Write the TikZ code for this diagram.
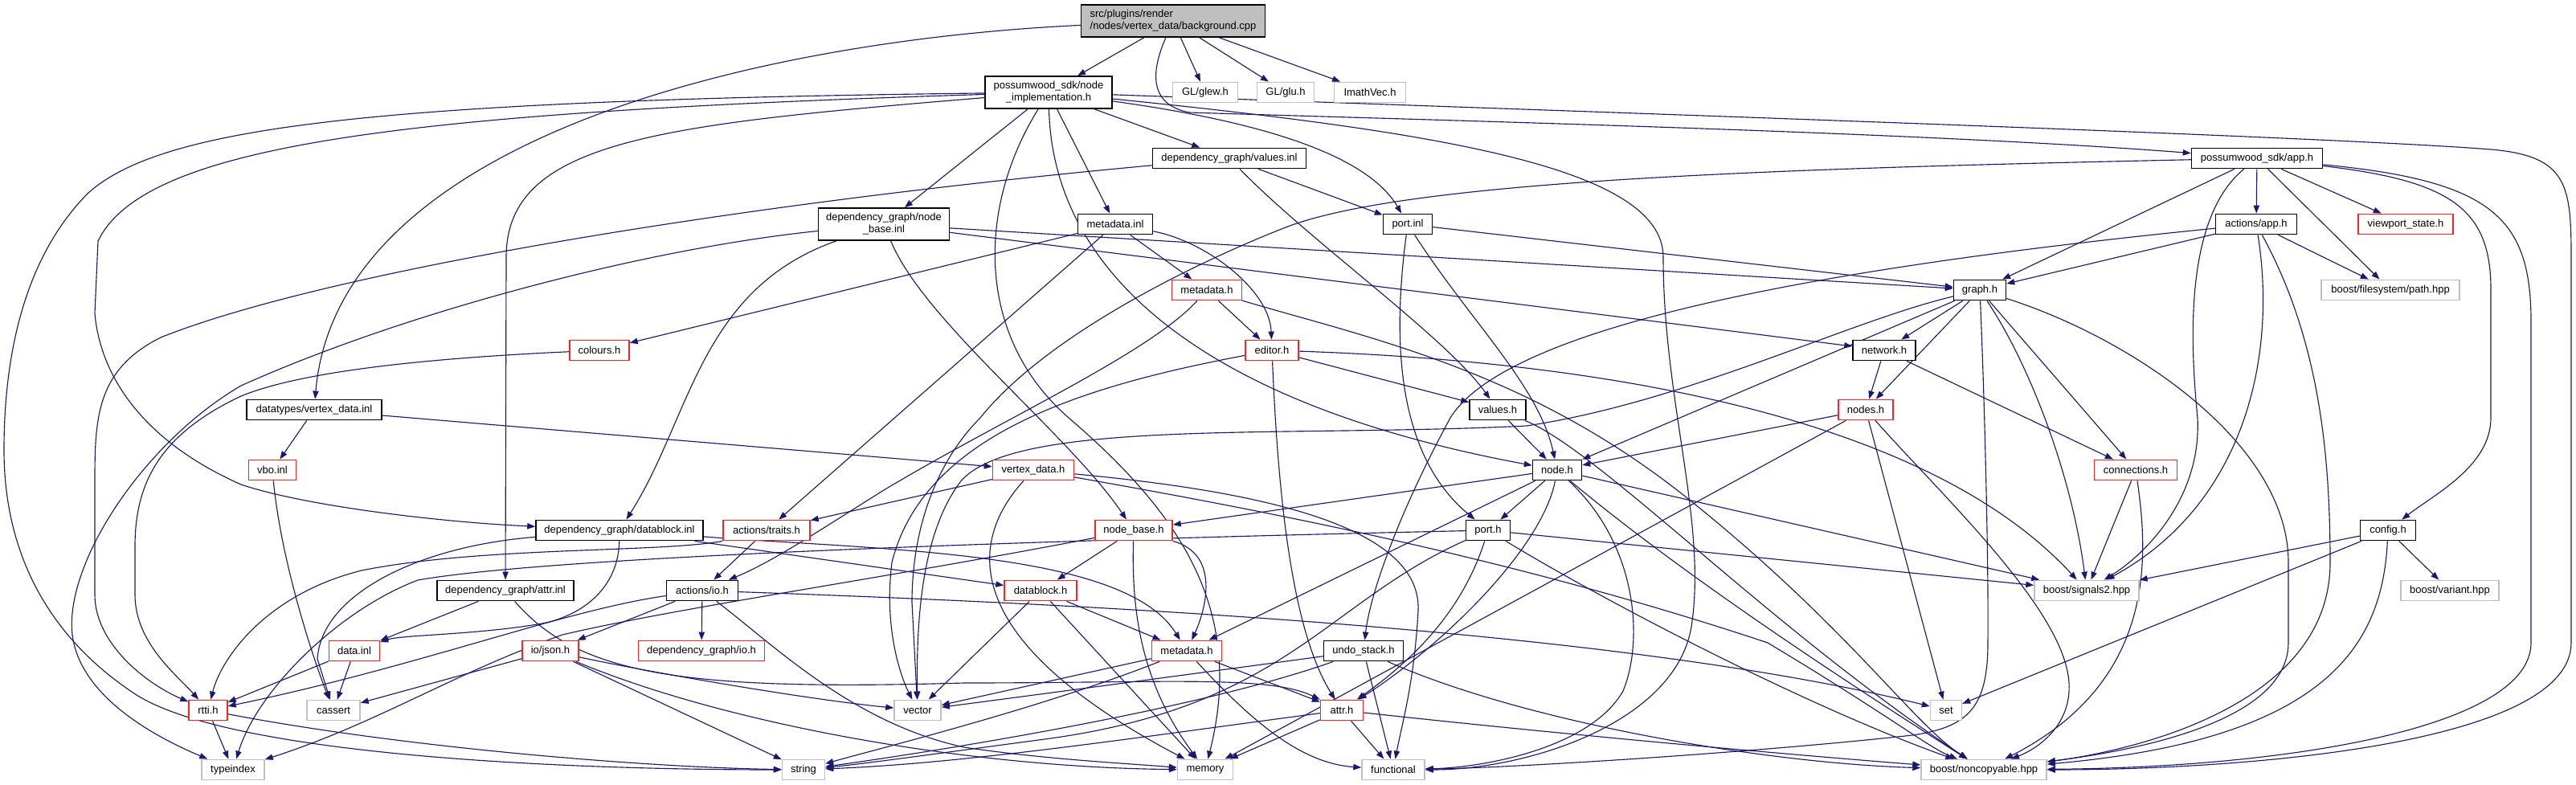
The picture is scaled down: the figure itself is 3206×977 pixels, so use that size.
\documentclass[tikz,border=0pt]{standalone}
\usepackage{fontspec}
\setmainfont{Liberation Sans}
\usetikzlibrary{arrows.meta}
\definecolor{edgec}{HTML}{191970}
\definecolor{extgray}{HTML}{BFBFBF}
\definecolor{redb}{HTML}{FF2020}
\pgfdeclarelayer{paper}
\pgfdeclarelayer{edges}
\pgfsetlayers{paper,edges,main}
\begin{document}
\begin{tikzpicture}[x=0.75pt,y=-0.75pt,
  box/.style={rectangle, fill=white, inner sep=0pt, minimum height=19pt, line width=1.1pt,
     font=\fontsize{9.75}{11.3}\selectfont},
  nb/.style={box, draw=black},
  rb/.style={box, draw=redb},
  gb/.style={box, draw=extgray},
  bw/.style={minimum width=#1*0.75pt},
  two/.style={minimum height=30pt},
  ed/.style={draw=edgec, line width=0.85pt, -{Triangle[length=7.5pt,width=5.5pt]}},
]
\useasboundingbox (0,0) rectangle (3206,977);
\begin{pgfonlayer}{paper}
\fill[white] (0,0) rectangle (3206,977);
\end{pgfonlayer}

% ---------------- nodes ----------------
\node[nb, fill=extgray, bw=229, two, align=left] (bg) at (1460,26) {src/plugins/render\\/nodes/vertex\_data/background.cpp};
\node[nb, bw=158, two, align=center] (nimpl) at (1305,115) {possumwood\_sdk/node\\\_implementation.h};
\node[gb, bw=81] (glew) at (1500,115) {GL/glew.h};
\node[gb, bw=71] (glu) at (1600,115) {GL/glu.h};
\node[gb, bw=89] (imath) at (1705,115) {ImathVec.h};
\node[nb, bw=191] (valinl) at (1530,197) {dependency\_graph/values.inl};
\node[nb, bw=163] (app) at (2809,197) {possumwood\_sdk/app.h};
\node[nb, bw=163, two, align=center] (nbinl) at (1100,279) {dependency\_graph/node\\\_base.inl};
\node[nb, bw=93] (mdinl) at (1388,279) {metadata.inl};
\node[nb, bw=61] (portinl) at (1752,279) {port.inl};
\node[nb, bw=101] (actapp) at (2808,279) {actions/app.h};
\node[rb, bw=118] (vpstate) at (2994,279) {viewport\_state.h};
\node[rb, bw=87] (mdh1) at (1502,361) {metadata.h};
\node[nb, bw=65] (graph) at (2464,361) {graph.h};
\node[gb, bw=172] (fspath) at (2975,361) {boost/filesystem/path.hpp};
\node[rb, bw=74] (colours) at (746,436) {colours.h};
\node[rb, bw=66] (editor) at (1583,436) {editor.h};
\node[nb, bw=78] (network) at (2345,436) {network.h};
\node[nb, bw=168] (vdinl) at (391,510) {datatypes/vertex\_data.inl};
\node[nb, bw=70] (valh) at (1864,510) {values.h};
\node[rb, bw=68] (nodes) at (2322,510) {nodes.h};
\node[rb, bw=59] (vbo) at (339,585) {vbo.inl};
\node[rb, bw=101] (vdh) at (1286,585) {vertex\_data.h};
\node[nb, bw=61] (nodeh) at (1938,585) {node.h};
\node[rb, bw=103] (conn) at (2658,585) {connections.h};
\node[nb, bw=208] (dbinl) at (771,660) {dependency\_graph/datablock.inl};
\node[rb, bw=108] (traits) at (954,660) {actions/traits.h};
\node[rb, bw=96] (nbh) at (1411,660) {node\_base.h};
\node[nb, bw=55] (porth) at (1852,660) {port.h};
\node[nb, bw=69] (config) at (2972,660) {config.h};
\node[nb, bw=170] (attrinl) at (629,735) {dependency\_graph/attr.inl};
\node[nb, bw=89] (actio) at (874,735) {actions/io.h};
\node[rb, bw=90] (dbh) at (1295,735) {datablock.h};
\node[gb, bw=130] (sig2) at (2597,735) {boost/signals2.hpp};
\node[gb, bw=122] (variant) at (3049,735) {boost/variant.hpp};
\node[rb, bw=63] (datainl) at (441,810) {data.inl};
\node[rb, bw=70] (json) at (685,810) {io/json.h};
\node[rb, bw=157] (dgio) at (873,810) {dependency\_graph/io.h};
\node[rb, bw=87] (mdh2) at (1477,810) {metadata.h};
\node[nb, bw=99] (undo) at (1697,810) {undo\_stack.h};
\node[rb, bw=48] (rtti) at (259,884) {rtti.h};
\node[gb, bw=66] (cassert) at (415,884) {cassert};
\node[gb, bw=58] (vector) at (1142,884) {vector};
\node[rb, bw=53] (attrh) at (1670,884) {attr.h};
\node[gb, bw=39] (set) at (2422,884) {set};
\node[gb, bw=78] (typeindex) at (290,958) {typeindex};
\node[gb, bw=53] (string) at (1000,958) {string};
\node[gb, bw=69] (memory) at (1500,958) {memory};
\node[gb, bw=78] (functional) at (1734,958) {functional};
\node[gb, bw=156] (noncopy) at (2469,958) {boost/noncopyable.hpp};

% ---------------- edges ----------------
\begin{pgfonlayer}{edges}
% background.cpp
\draw[ed] (bg) -- (nimpl);
\draw[ed] (bg) -- (glew);
\draw[ed] (bg) -- (glu);
\draw[ed] (bg) -- (imath);
\draw[ed] (bg) .. controls (950,50) and (420,170) .. (vdinl);
\draw[ed] (bg) .. controls (1432,90) and (1430,130) .. (1480,140) .. controls (1800,150) and (2400,165) .. (app);
% node_implementation.h
\draw[ed] (nimpl) .. controls (450,125) and (200,160) .. (110,240) .. controls (40,310) and (5,420) .. (5,560) .. controls (5,700) and (70,800) .. (170,865) .. controls (290,940) and (700,958) .. (string);
\draw[ed] (nimpl) .. controls (500,140) and (180,180) .. (122,300) -- (118,390) .. controls (125,470) and (180,550) .. (300,603) .. controls (380,630) and (550,650) .. (dbinl);
\draw[ed] (nimpl) .. controls (820,155) and (630,175) .. (630,320) -- (attrinl);
\draw[ed] (nimpl) -- (nbinl);
\draw[ed] (nimpl) .. controls (1215,260) and (1215,420) .. (1330,520) .. controls (1470,640) and (1550,760) .. (memory);
\draw[ed] (nimpl) .. controls (1310,330) and (1480,500) .. (nodeh);
\draw[ed] (nimpl) -- (mdinl);
\draw[ed] (nimpl) -- (valinl);
\draw[ed] (nimpl) .. controls (1560,150) and (1700,190) .. (portinl);
\draw[ed] (nimpl) .. controls (1800,165) and (2070,210) .. (2070,320) .. controls (2070,500) and (2125,650) .. (2105,780) .. controls (2085,900) and (1900,958) .. (functional);
\draw[ed] (nimpl) .. controls (2000,140) and (2900,170) .. (3100,186) .. controls (3195,194) and (3200,230) .. (3200,320) -- (3200,800) .. controls (3200,925) and (2800,958) .. (noncopy);
% values.inl
\draw[ed] (valinl) .. controls (900,255) and (400,340) .. (200,420) .. controls (120,460) and (118,520) .. (118,600) -- (118,740) .. controls (118,800) and (180,850) .. (rtti);
\draw[ed] (valinl) .. controls (1630,300) and (1800,420) .. (valh);
\draw[ed] (valinl) -- (portinl);
% app.h
\draw[ed] (app) -- (actapp);
\draw[ed] (app) -- (vpstate);
\draw[ed] (app) -- (fspath);
\draw[ed] (app) -- (graph);
\draw[ed] (app) .. controls (2200,210) and (1750,225) .. (1600,283) .. controls (1480,330) and (1300,420) .. (1220,520) .. controls (1170,570) and (1135,650) .. (1135,750) -- (vector);
\draw[ed] (app) .. controls (3050,225) and (3100,260) .. (3100,360) -- (3100,520) .. controls (3100,580) and (3030,615) .. (config);
\draw[ed] (app) .. controls (3100,225) and (3150,270) .. (3150,400) -- (3150,800) .. controls (3150,905) and (2850,955) .. (noncopy);
\draw[ed] (app) .. controls (2720,270) and (2725,420) .. (2735,520) .. controls (2740,620) and (2670,690) .. (sig2);
% node_base.inl
\draw[ed] (nbinl) .. controls (800,310) and (500,390) .. (300,480) .. controls (180,550) and (80,700) .. (90,790) .. controls (100,870) and (200,920) .. (typeindex);
\draw[ed] (nbinl) .. controls (870,360) and (860,520) .. (dbinl);
\draw[ed] (nbinl) .. controls (1150,400) and (1330,540) .. (nbh);
\draw[ed] (nbinl) -- (graph);
\draw[ed] (nbinl) -- (network);
% metadata.inl
\draw[ed] (mdinl) -- (mdh1);
\draw[ed] (mdinl) .. controls (1500,300) and (1580,360) .. (editor);
\draw[ed] (mdinl) -- (colours);
\draw[ed] (mdinl) -- (traits);
% port.inl
\draw[ed] (portinl) -- (graph);
\draw[ed] (portinl) .. controls (1736,400) and (1730,560) .. (porth);
\draw[ed] (portinl) .. controls (1830,400) and (1915,480) .. (nodeh);
% actions/app.h
\draw[ed] (actapp) -- (graph);
\draw[ed] (actapp) -- (fspath);
\draw[ed] (actapp) .. controls (2300,330) and (1880,400) .. (1805,520) .. controls (1740,640) and (1705,740) .. (undo);
\draw[ed] (actapp) .. controls (2835,450) and (2790,630) .. (sig2);
\draw[ed] (actapp) .. controls (2885,420) and (2900,560) .. (2900,700) .. controls (2900,880) and (2650,935) .. (noncopy);
% metadata.h (sdk)
\draw[ed] (mdh1) -- (editor);
\draw[ed] (mdh1) .. controls (1430,440) and (1250,520) .. (1100,610) .. controls (1020,660) and (960,700) .. (actio);
\draw[ed] (mdh1) .. controls (1700,420) and (1900,460) .. (2100,620) .. controls (2300,780) and (2380,900) .. (noncopy);
% graph.h
\draw[ed] (graph) -- (network);
\draw[ed] (graph) -- (nodes);
\draw[ed] (graph) -- (conn);
\draw[ed] (graph) -- (nodeh);
\draw[ed] (graph) .. controls (2300,400) and (2100,500) .. (1900,530) .. controls (1600,545) and (1260,520) .. (1195,600) .. controls (1150,660) and (1140,760) .. (vector);
\draw[ed] (graph) .. controls (2470,500) and (2475,700) .. (2474,800) .. controls (2474,880) and (2450,905) .. (2380,915) .. controls (2200,935) and (1900,955) .. (functional);
\draw[ed] (graph) .. controls (2530,460) and (2580,600) .. (sig2);
\draw[ed] (graph) .. controls (2650,420) and (2848,550) .. (2848,700) -- (2848,800) .. controls (2848,900) and (2650,935) .. (noncopy);
% network.h
\draw[ed] (network) -- (nodes);
\draw[ed] (network) -- (conn);
% colours.h
\draw[ed] (colours) .. controls (550,445) and (380,460) .. (300,493) .. controls (200,540) and (168,600) .. (168,680) -- (168,740) .. controls (168,800) and (220,840) .. (rtti);
% editor.h
\draw[ed] (editor) -- (valh);
\draw[ed] (editor) .. controls (1590,600) and (1605,780) .. (attrh);
\draw[ed] (editor) .. controls (1350,480) and (1150,540) .. (1110,700) .. controls (1100,780) and (1120,840) .. (vector);
\draw[ed] (editor) .. controls (2000,450) and (2400,520) .. (sig2);
% datatypes/vertex_data.inl
\draw[ed] (vdinl) -- (vbo);
\draw[ed] (vdinl) -- (vdh);
% values.h
\draw[ed] (valh) -- (nodeh);
\draw[ed] (valh) .. controls (1990,560) and (2200,780) .. (noncopy);
% nodes.h
\draw[ed] (nodes) -- (nodeh);
\draw[ed] (nodes) -- (set);
\draw[ed] (nodes) -- (memory);
\draw[ed] (nodes) .. controls (2420,620) and (2570,760) .. (2575,850) .. controls (2578,900) and (2540,930) .. (noncopy);
% vbo.inl
\draw[ed] (vbo) .. controls (350,700) and (390,820) .. (cassert);
% vertex_data.h
\draw[ed] (vdh) -- (traits);
\draw[ed] (vdh) .. controls (1200,680) and (1200,800) .. (memory);
\draw[ed] (vdh) .. controls (1550,610) and (1770,650) .. (1765,760) .. controls (1760,850) and (1745,900) .. (functional);
\draw[ed] (vdh) .. controls (1600,640) and (1900,700) .. (2200,800) .. controls (2350,890) and (2400,930) .. (noncopy);
% node.h
\draw[ed] (nodeh) -- (nbh);
\draw[ed] (nodeh) -- (porth);
\draw[ed] (nodeh) -- (mdh2);
\draw[ed] (nodeh) .. controls (1920,680) and (1800,800) .. (attrh);
\draw[ed] (nodeh) .. controls (2040,680) and (2045,800) .. (2020,860) .. controls (1980,930) and (1850,955) .. (functional);
\draw[ed] (nodeh) .. controls (2100,720) and (2300,850) .. (noncopy);
\draw[ed] (nodeh) -- (sig2);
% connections.h
\draw[ed] (conn) -- (sig2);
\draw[ed] (conn) .. controls (2675,700) and (2680,850) .. (noncopy);
% datablock.inl
\draw[ed] (dbinl) -- (dbh);
\draw[ed] (dbinl) .. controls (1100,685) and (1400,685) .. (mdh2);
\draw[ed] (dbinl) .. controls (770,720) and (740,760) .. (680,775) .. controls (600,790) and (500,790) .. (datainl);
\draw[ed] (dbinl) .. controls (520,680) and (400,740) .. (395,820) -- (cassert);
% actions/traits.h
\draw[ed] (traits) -- (actio);
\draw[ed] (traits.south west) .. controls (820,688) and (600,680) .. (450,710) .. controls (330,740) and (275,820) .. (rtti);
% node_base.h
\draw[ed] (nbh) -- (dbh);
\draw[ed] (nbh) .. controls (1520,690) and (1500,760) .. (mdh2);
\draw[ed] (nbh) .. controls (1408,760) and (1420,850) .. (memory);
\draw[ed] (nbh) .. controls (1100,720) and (850,755) .. (700,790) .. controls (560,840) and (470,900) .. (typeindex);
% port.h
\draw[ed] (porth) .. controls (1820,760) and (1760,820) .. (attrh);
\draw[ed] (porth) -- (sig2);
\draw[ed] (porth) .. controls (2000,750) and (2250,880) .. (noncopy);
\draw[ed] (porth) .. controls (1400,670) and (700,690) .. (520,722) .. controls (420,760) and (320,860) .. (typeindex);
\draw[ed] (porth) .. controls (1650,750) and (1600,880) .. (1300,920) .. controls (1150,940) and (1080,950) .. (string);
% config.h
\draw[ed] (config) -- (sig2);
\draw[ed] (config) -- (variant);
\draw[ed] (config) -- (set);
\draw[ed] (config) .. controls (2965,800) and (2900,920) .. (noncopy);
% attr.inl
\draw[ed] (attrinl) -- (datainl);
\draw[ed] (attrinl) .. controls (720,840) and (850,860) .. (1200,850) .. controls (1450,850) and (1580,840) .. (attrh);
% actions/io.h
\draw[ed] (actio) -- (json);
\draw[ed] (actio) -- (dgio);
\draw[ed] (actio) .. controls (700,760) and (520,830) .. (rtti);
\draw[ed] (actio) .. controls (960,800) and (1060,900) .. (1200,930) .. controls (1300,945) and (1400,950) .. (memory);
\draw[ed] (actio) .. controls (1300,750) and (2000,780) .. (set);
% datablock.h
\draw[ed] (dbh) -- (mdh2);
\draw[ed] (dbh) -- (vector);
\draw[ed] (dbh) -- (memory);
% data.inl
\draw[ed] (datainl) -- (rtti);
\draw[ed] (datainl) -- (cassert);
% io/json.h
\draw[ed] (json) -- (cassert);
\draw[ed] (json) .. controls (800,835) and (1000,870) .. (vector);
\draw[ed] (json) -- (string);
\draw[ed] (json) .. controls (900,900) and (1200,955) .. (memory);
% metadata.h (dependency_graph)
\draw[ed] (mdh2) -- (attrh);
\draw[ed] (mdh2) -- (vector);
\draw[ed] (mdh2) .. controls (1300,880) and (1100,930) .. (string);
\draw[ed] (mdh2) .. controls (1560,900) and (1620,950) .. (functional);
% undo_stack.h
\draw[ed] (undo) .. controls (1400,850) and (1250,870) .. (vector);
\draw[ed] (undo) .. controls (1500,880) and (1200,930) .. (string);
\draw[ed] (undo) -- (functional);
\draw[ed] (undo) .. controls (1900,900) and (2200,950) .. (noncopy);
% rtti.h
\draw[ed] (rtti) -- (typeindex);
\draw[ed] (rtti) .. controls (500,930) and (800,955) .. (string);
% attr.h
\draw[ed] (attrh) .. controls (1400,920) and (1200,950) .. (string);
\draw[ed] (attrh) -- (functional);
\draw[ed] (attrh) -- (memory);
\draw[ed] (attrh) .. controls (2000,920) and (2300,945) .. (noncopy);
\end{pgfonlayer}
\end{tikzpicture}
\end{document}
